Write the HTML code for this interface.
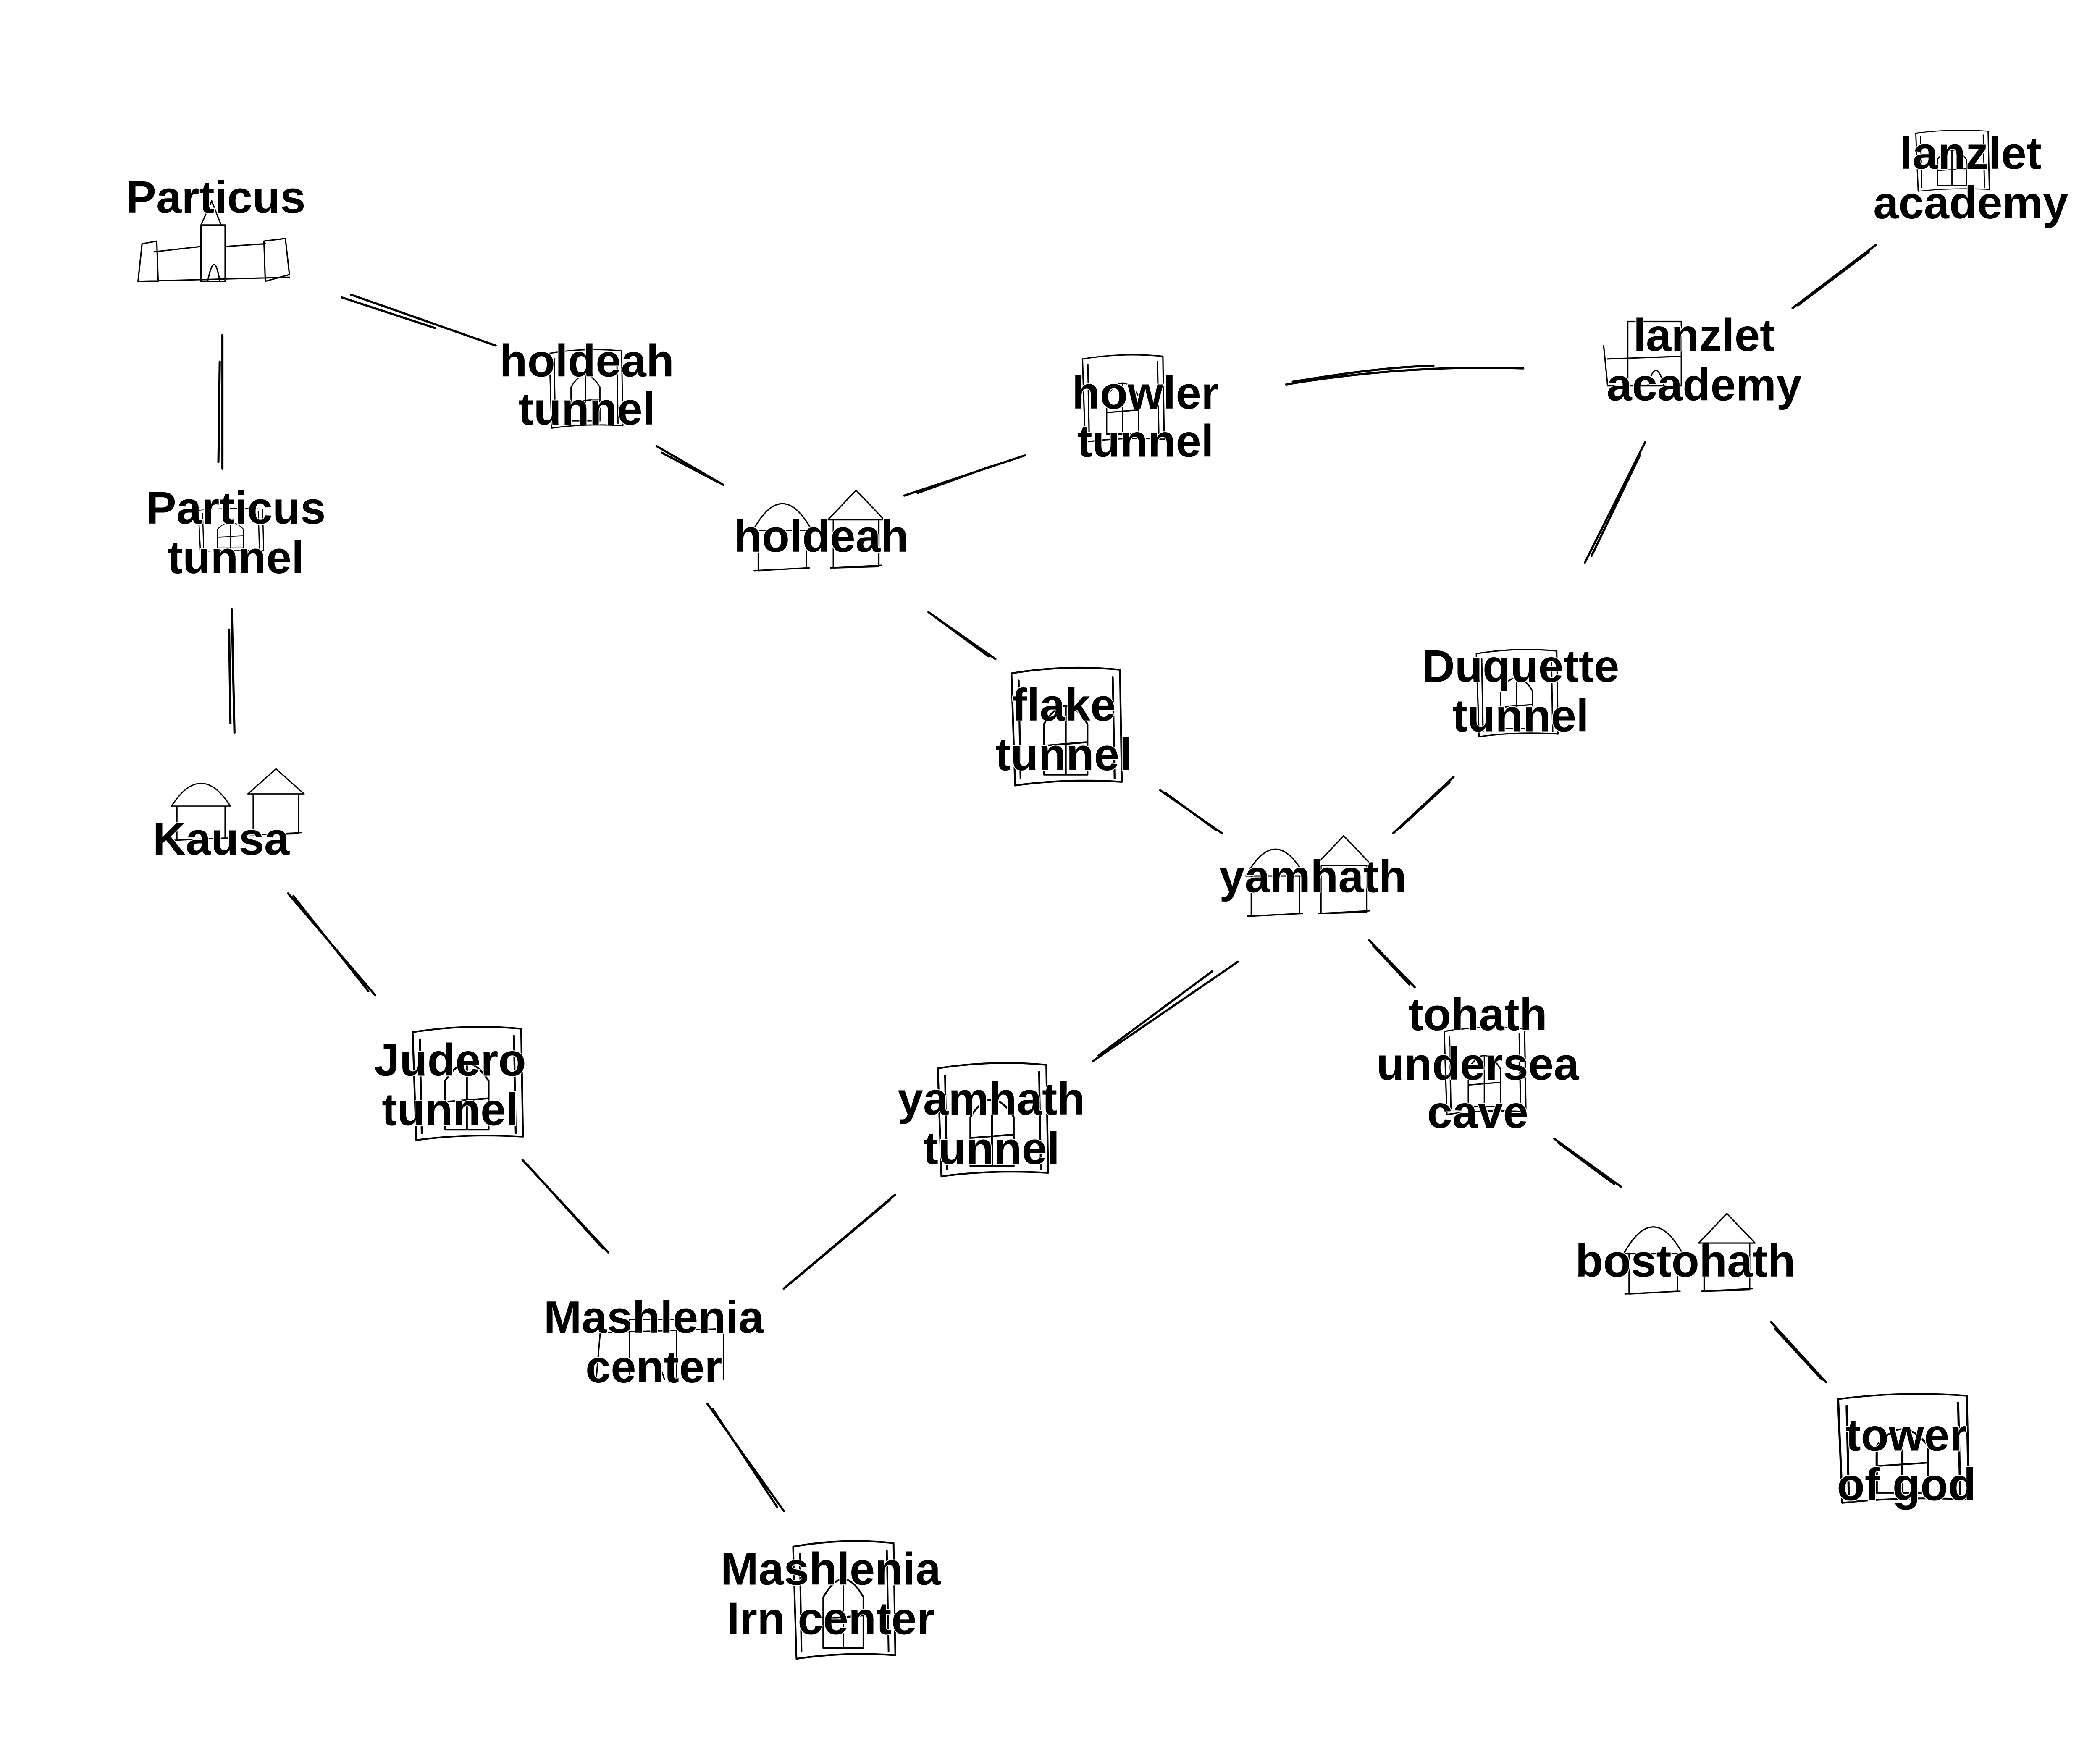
<!DOCTYPE html>
<html><head><meta charset="utf-8"><style>
html,body{margin:0;padding:0;background:#fff}
svg{display:block}
text{font-family:"Liberation Sans",sans-serif;font-weight:bold;font-size:34px;text-anchor:middle;fill:#000;stroke:#fff;stroke-width:1.2px;paint-order:stroke}
.e{fill:none;stroke:#000;stroke-width:1.6;stroke-linecap:round}
.i{fill:none;stroke:#000;stroke-width:1;stroke-linecap:round;stroke-linejoin:round}
</style></head><body>
<svg width="5091" height="4153" viewBox="0 0 1596 1302" xmlns="http://www.w3.org/2000/svg">
<defs>
<g id="hut"><path class="i" d="M0 28 Q22 -12 44 28 Z M4 28 L4 58 L40 56 L40 28 M1 58 L42 56"/></g>
<g id="hut2"><path class="i" d="M0 22 L21 0 L42 22 Z M4 22 L4 58 L38 57 L38 22 M2 58 L40 56"/></g>
<g id="tun"><path class="i" d="M0 2 Q30 -3 60 0 L61 62 Q30 60 2 64 Z M4 6 L5 60 M56 4 L57 60 M18 30 Q30 10 42 30 L42 58 L18 58 Z M18 42 L42 40 M30 20 L30 58"/></g>
</defs>
<g class="e">
<path d="M255 222 L325 245 M262 220 L370 258"/>
<path d="M166 250 L166 350 M164 270 L163 345"/>
<path d="M173 455 L175 547 M171 470 L172 540"/>
<path d="M490 333 L540 362 M494 338 L536 360"/>
<path d="M675 370 L765 340 M685 368 L740 348"/>
<path d="M960 287 Q1050 272 1137 275 M965 285 Q1030 274 1070 273"/>
<path d="M1338 230 L1400 183 M1342 228 L1395 188"/>
<path d="M1228 330 L1183 420 M1224 340 L1188 415"/>
<path d="M693 457 L743 492 M697 460 L738 490"/>
<path d="M866 590 L912 622 M870 592 L908 620"/>
<path d="M1040 622 L1085 580 M1045 618 L1082 584"/>
<path d="M924 718 L816 792 M905 725 L820 788"/>
<path d="M1022 702 L1056 737 M1025 706 L1052 735"/>
<path d="M1160 850 L1210 886 M1163 853 L1205 884"/>
<path d="M1322 987 L1363 1032 M1325 992 L1360 1030"/>
<path d="M215 667 L280 743 M219 669 L275 740"/>
<path d="M390 866 L454 935 M394 870 L450 932"/>
<path d="M668 892 L585 962 M664 896 L590 958"/>
<path d="M528 1048 L585 1128 M532 1052 L580 1125"/>
</g>
<path class="i" d="M103 210 L106 182 L117 180 L118 210 Z M115 188 L150 184 L150 210 M150 168 L150 210 L168 210 L168 168 Z M150 168 L158 150 L165 168 M168 184 L198 182 M197 180 L213 178 L216 205 L198 210 Z M103 210 L216 207 M155 210 Q160 185 164 210"/>
<use href="#tun" transform="translate(410 262) scale(0.9)"/>
<use href="#tun" transform="translate(148 380) scale(0.8 0.5)"/>
<use href="#hut" x="562" y="368"/>
<use href="#hut2" x="618" y="366"/>
<use href="#tun" x="808" y="266"/>
<use href="#tun" transform="translate(1430 98) scale(0.9 0.7)"/>
<path class="i" d="M1197 258 L1200 288 L1255 288 L1255 240 L1215 240 L1215 288 M1200 268 L1255 266 M1230 288 Q1236 265 1242 288"/>
<use href="#tun" x="1102" y="486"/>
<use href="#tun" transform="translate(755 500) scale(1.35)"/>
<use href="#hut" x="930" y="626"/>
<use href="#hut2" x="982" y="624"/>
<use href="#hut" transform="translate(128 578) scale(1 0.85)"/>
<use href="#hut2" transform="translate(185 574) scale(1 0.85)"/>
<use href="#tun" x="1078" y="768"/>
<use href="#tun" transform="translate(308 768) scale(1.35 1.3)"/>
<use href="#tun" transform="translate(700 795) scale(1.35 1.3)"/>
<use href="#hut" x="1212" y="908"/>
<use href="#hut2" x="1268" y="906"/>
<path class="i" d="M445 1030 L448 995 L540 992 L540 1030 M470 1030 L470 985 L505 985 L505 1030 M478 1030 Q487 1000 496 1030"/>
<use href="#tun" transform="translate(592 1152) scale(1.25 1.35)"/>
<use href="#tun" transform="translate(1372 1042) scale(1.6 1.25)"/>
<g>
<text x="161" y="159">Particus</text>
<text x="176" y="391">Particus</text><text x="176" y="428">tunnel</text>
<text x="438" y="281">holdeah</text><text x="438" y="317">tunnel</text>
<text x="613" y="412">holdeah</text>
<text x="855" y="305">howler</text><text x="855" y="341">tunnel</text>
<text x="1471" y="126">lanzlet</text><text x="1471" y="163">academy</text>
<text x="1272" y="262">lanzlet</text><text x="1272" y="299">academy</text>
<text x="1135" y="509">Duquette</text><text x="1135" y="546">tunnel</text>
<text x="794" y="538">flake</text><text x="794" y="575">tunnel</text>
<text x="980" y="666">yamhath</text>
<text x="165" y="638">Kausa</text>
<text x="336" y="803">Judero</text><text x="336" y="840">tunnel</text>
<text x="740" y="832">yamhath</text><text x="740" y="869">tunnel</text>
<text x="1103" y="769">tohath</text><text x="1103" y="806">undersea</text><text x="1103" y="842">cave</text>
<text x="1258" y="953">bostohath</text>
<text x="488" y="995">Mashlenia</text><text x="488" y="1032">center</text>
<text x="620" y="1183">Mashlenia</text><text x="620" y="1220">Irn center</text>
<text x="1423" y="1083">tower</text><text x="1423" y="1120">of god</text>
</g>
</svg>
</body></html>
